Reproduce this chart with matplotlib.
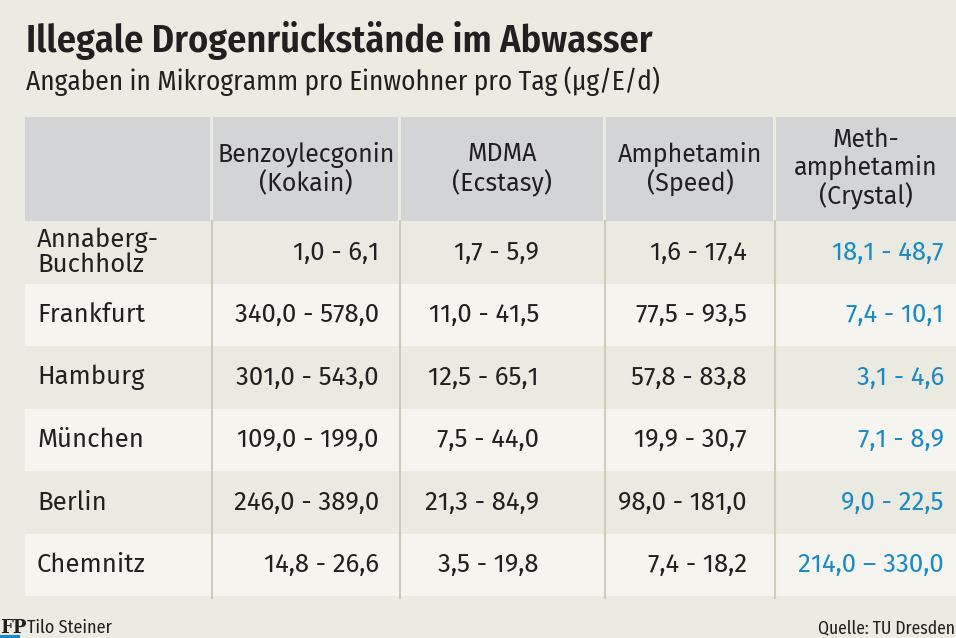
import matplotlib.pyplot as plt
from matplotlib.patches import Rectangle

# Daten der Tabelle
staedte = ["Annaberg-\nBuchholz", "Frankfurt", "Hamburg", "München", "Berlin", "Chemnitz"]
spalten = ["Benzoylecgonin\n(Kokain)", "MDMA\n(Ecstasy)", "Amphetamin\n(Speed)",
           "Meth-\namphetamin\n(Crystal)"]
kokain = ["1,0 - 6,1", "340,0 - 578,0", "301,0 - 543,0", "109,0 - 199,0", "246,0 - 389,0", "14,8 - 26,6"]
mdma = ["1,7 - 5,9", "11,0 - 41,5", "12,5 - 65,1", "7,5 - 44,0", "21,3 - 84,9", "3,5 - 19,8"]
amphetamin = ["1,6 - 17,4", "77,5 - 93,5", "57,8 - 83,8", "19,9 - 30,7", "98,0 - 181,0", "7,4 - 18,2"]
crystal = ["18,1 - 48,7", "7,4 - 10,1", "3,1 - 4,6", "7,1 - 8,9", "9,0 - 22,5", "214,0 – 330,0"]

titel = "Illegale Drogenrückstände im Abwasser"
untertitel = "Angaben in Mikrogramm pro Einwohner pro Tag (µg/E/d)"
autor = "Tilo Steiner"
quelle = "Quelle: TU Dresden"

# Schriften (mit Ersatz, falls nicht vorhanden)
schmal = ["Fira Sans Condensed", "Liberation Sans", "DejaVu Sans"]
normal = ["Fira Sans", "Open Sans", "DejaVu Sans"]

# Farben
hg = "#ecebe2"
kopf = "#d3d4d6"
dunkel = "#ebeae0"
hell = "#f5f4ee"
linie = "#d0ccbc"
blau = "#1a8ac6"
text = "#231f20"

fig = plt.figure(figsize=(9.56, 6.38), dpi=100, facecolor=hg)
ax = fig.add_axes([0, 0, 1, 1])
ax.set_xlim(0, 956)
ax.set_ylim(638, 0)
ax.axis("off")
renderer = fig.canvas.get_renderer()


def passend(t, breite):
    # Schriftgröße so anpassen, dass der Text die Zielbreite hat
    b = t.get_window_extent(renderer).width
    t.set_fontsize(t.get_fontsize() * breite / b)


# Titel
t = ax.text(26, 52, titel, fontsize=27, fontweight="semibold", family=schmal,
            color=text, va="baseline")
passend(t, 628)
t = ax.text(26, 90, untertitel, fontsize=18, family=schmal, color=text, va="baseline")
passend(t, 632)

# Geometrie
x_kanten = [25, 212, 400, 605, 775, 962]
y_kopf = (117, 221)
zeile_h = (596 - 221) / len(staedte)
x_werte = [379, 539, 747, 944]

# Kopfzeile
for i in range(len(x_kanten) - 1):
    x0 = x_kanten[i] + (1.5 if i > 0 else 0)
    x1 = x_kanten[i + 1] - 1.5
    ax.add_patch(Rectangle((x0, y_kopf[0]), x1 - x0, y_kopf[1] - y_kopf[0],
                           facecolor=kopf, edgecolor="none"))
for i, s in enumerate(spalten):
    xm = (x_kanten[i + 1] + x_kanten[i + 2]) / 2
    if i == 3:
        xm = 866
    ax.text(xm, 169, s, ha="center", va="center", fontsize=18, family=normal,
            color=text, linespacing=1.12)

# Zeilen
werte = [kokain, mdma, amphetamin, crystal]
for r, stadt in enumerate(staedte):
    y0 = y_kopf[1] + r * zeile_h
    farbe = dunkel if r % 2 == 0 else hell
    ax.add_patch(Rectangle((x_kanten[0], y0), x_kanten[-1] - x_kanten[0], zeile_h,
                           facecolor=farbe, edgecolor="none"))
    ym = y0 + zeile_h / 2
    ax.text(37, ym, stadt, ha="left", va="center", fontsize=18.5, family=normal,
            color=text, linespacing=1.0)
    for c, spalte in enumerate(werte):
        ax.text(x_werte[c], ym, spalte[r], ha="right", va="center", fontsize=18.5,
                family=normal, color=blau if c == 3 else text)

# Spaltenlinien
for x in x_kanten[1:-1]:
    ax.plot([x, x], [y_kopf[1], 598], color=linie, lw=1.5)

# Fußzeile
ax.text(0, 633, "FP", fontsize=13, fontweight="bold", family="DejaVu Serif",
        color=text, va="baseline")
ax.plot([0, 18], [637, 637], color=blau, lw=3)
t = ax.text(27, 633, autor, fontsize=12, family=schmal, color=text, va="baseline")
passend(t, 85)
t = ax.text(955, 633, quelle, fontsize=12, family=schmal, color=text,
            va="baseline", ha="right")
passend(t, 138)

fig.savefig("out.png", dpi=100, facecolor=hg)
